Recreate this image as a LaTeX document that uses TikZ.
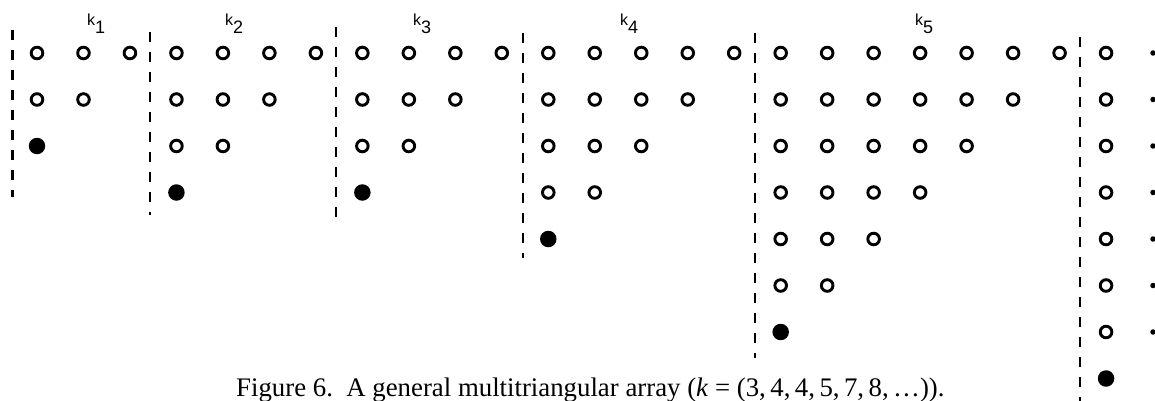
\documentclass[tikz,border=0pt]{standalone}
\usepackage{fontspec}
\setmainfont{Liberation Serif}
\newfontfamily\labfont{Liberation Sans}
\begin{document}
\begin{tikzpicture}[x=1pt,y=-1pt,
  opencirc/.style={circle,draw,line width=2.9pt,minimum size=11.6pt,inner sep=0pt,outer sep=0pt},
  fillcirc/.style={circle,fill,minimum size=16.5pt,inner sep=0pt,outer sep=0pt},
  tinydot/.style={circle,fill,minimum size=5.5pt,inner sep=0pt,outer sep=0pt},
  sepline/.style={line width=2.2pt,dash pattern=on 10pt off 10pt},
  klabel/.style={anchor=base west,font=\labfont\fontsize{16}{16}\selectfont,inner sep=0pt},
  captext/.style={anchor=base west,font=\fontsize{26.8}{26.8}\selectfont,inner sep=0pt}]
\useasboundingbox (0,0) rectangle (1155,401);
% blocks: number / first column / k / dashed x / dashed top / dashed bottom / label x
\foreach \b/\s/\k/\dx/\dt/\db/\lx in {1/0/3/12.5/30/197/87, 2/3/4/150/32/215/225, 3/7/4/336/27/220/413, 4/11/5/523/33/258/620, 5/16/7/755/33/358/915}{
  \pgfmathtruncatemacro\m{\k-2}
  \foreach \j in {0,...,\m}{
    \pgfmathtruncatemacro\n{\k-\j-1}
    \foreach \c in {0,...,\n}{
      \node[opencirc] (b\b-r\j-c\c) at ({37+46.48*(\s+\c)},{53+46.5*\j}) {};
    }
  }
  \pgfmathtruncatemacro\f{\k-1}
  \node[fillcirc] (b\b-r\f-c0) at ({37+46.48*\s},{53+46.5*\f}) {};
  \coordinate (d\b-top) at (\dx,\dt);
  \coordinate (d\b-bot) at (\dx,\db);
  \draw[sepline] (d\b-top) -- (d\b-bot);
  \node[klabel] (lab\b) at (\lx,26) {k\raisebox{-8pt}{\fontsize{18}{18}\selectfont\b}};
}
% block 6 (cut at the right edge)
\foreach \j in {0,...,6}{
  \node[opencirc] (b6-r\j-c0) at ({37+46.48*23},{53+46.5*\j}) {};
  \node[tinydot] (b6-r\j-c1) at (1153,{53+46.5*\j}) {};
}
\node[fillcirc] (b6-r7-c0) at ({37+46.48*23},{53+46.5*7}) {};
\coordinate (d6-top) at (1080,37);
\coordinate (d6-bot) at (1080,401);
\draw[sepline] (d6-top) -- (d6-bot);
% caption
\node[captext] (cap) at (236,396) {Figure 6.\ \ A general multitriangular array (\textit{k} = (3,\,4,\,4,\,5,\,7,\,8,\,\ldots)).};
\end{tikzpicture}
\end{document}
